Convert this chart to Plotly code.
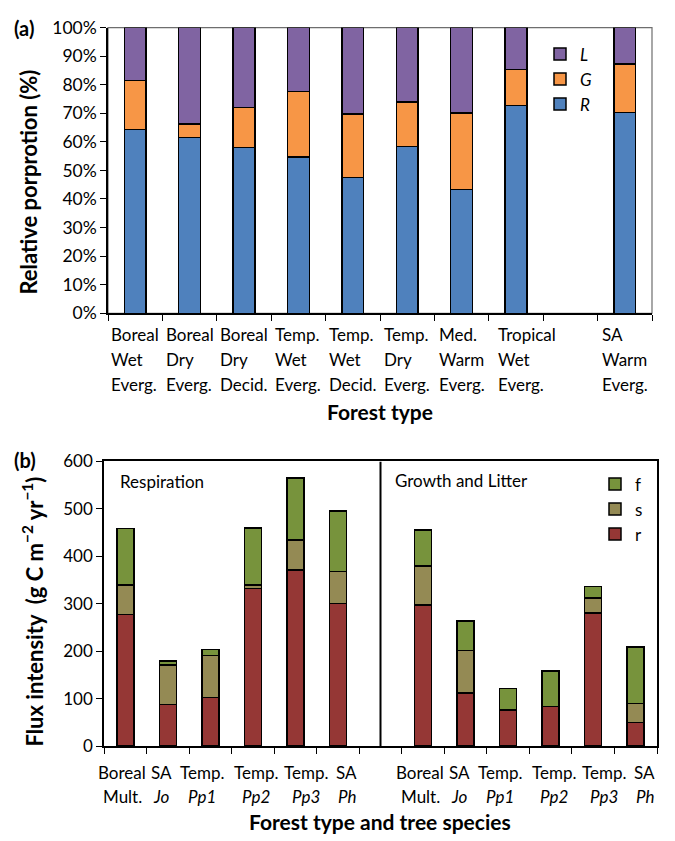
import plotly.graph_objects as go

# ---------------- Panel (a): relative partitioning by forest type ----------------
forest_types = [
    "Boreal<br>Wet<br>Everg.", "Boreal<br>Dry<br>Everg.", "Boreal<br>Dry<br>Decid.",
    "Temp.<br>Wet<br>Everg.", "Temp.<br>Wet<br>Decid.", "Temp.<br>Dry<br>Everg.",
    "Med.<br>Warm<br>Everg.", "Tropical<br>Wet<br>Everg.", "", "SA<br>Warm<br>Everg.",
]
share_R = [64.3, 61.6, 58.1, 54.7, 47.5, 58.4, 43.4, 72.8, None, 70.2]
share_G = [17.2, 4.6, 14.0, 23.0, 22.2, 15.5, 26.7, 12.6, None, 17.1]
share_L = [18.5, 33.8, 27.9, 22.3, 30.3, 26.1, 29.9, 14.6, None, 12.7]
pct_ticks = list(range(0, 101, 10))
pct_labels = [f"{v}%" for v in pct_ticks]

# ---------------- Panel (b): flux intensity by forest type / species ----------------
species = ["Boreal<br>Mult.", "SA<br><i>Jo</i>", "Temp.<br><i>Pp1</i>",
           "Temp.<br><i>Pp2</i>", "Temp.<br><i>Pp3</i>", "SA<br><i>Ph</i>"]
resp_r = [278, 88, 103, 332, 371, 301]
resp_s = [62, 83, 88, 8, 63, 67]
resp_f = [119, 9, 13, 120, 131, 128]
grow_r = [298, 112, 76, 84, 281, 50]
grow_s = [82, 90, 0, 0, 31, 40]
grow_f = [76, 62, 46, 74, 24, 119]
flux_ticks = list(range(0, 601, 100))

FONT = "Lato"
FS = 17
W, H = 675, 841

C_R, C_G, C_L = "#4F81BD", "#F79646", "#8064A2"
C_r, C_s, C_f = "#953735", "#948A54", "#77933C"

# horizontal nudges (px) that keep crowded category labels from touching
nudge_a = {7: 11}
nudge_b = [-3, -6, -8, 3, 11, 9]

fig = go.Figure()

xa = list(range(len(forest_types)))
for name, vals, col in [("<i>R</i>", share_R, C_R), ("<i>G</i>", share_G, C_G), ("<i>L</i>", share_L, C_L)]:
    fig.add_trace(go.Bar(x=xa, y=vals, name=name, marker=dict(color=col, line=dict(color="black", width=1.5)),
                         width=0.4, xaxis="x", yaxis="y", legend="legend"))

n = len(species)
xb_resp = list(range(n))
xb_grow = [i + n + 1 for i in range(n)]
xb = xb_resp + xb_grow
for name, a, b, col in [("r", resp_r, grow_r, C_r), ("s", resp_s, grow_s, C_s), ("f", resp_f, grow_f, C_f)]:
    fig.add_trace(go.Bar(x=xb, y=a + b, name=name, marker=dict(color=col, line=dict(color="black", width=1.5)),
                         width=0.4, xaxis="x2", yaxis="y2", legend="legend2"))

tickfont = dict(family=FONT, size=FS, color="black")

# plot areas (pixels -> paper fractions)
ax_a = dict(l=108, r=652, t=17, b=310)
ax_b = dict(l=104, r=657, t=462, b=754)

def xdom(p):
    return [p["l"] / W, p["r"] / W]

def ydom(p):
    return [1 - p["b"] / H, 1 - p["t"] / H]

nb_a = len(forest_types)
nb_b = 2 * n + 1

fig.update_layout(
    width=W, height=H, margin=dict(l=0, r=0, t=0, b=0),
    plot_bgcolor="white", paper_bgcolor="white",
    barmode="stack", font=dict(family=FONT, size=FS, color="black"),
    xaxis=dict(domain=xdom(ax_a), range=[-0.5, nb_a - 0.5], showticklabels=False, ticks="",
               showline=True, linecolor="black", linewidth=1.5, showgrid=False, zeroline=False,
               minor=dict(tickmode="array", tickvals=[i - 0.5 for i in range(nb_a + 1)],
                          ticks="outside", ticklen=6, tickcolor="black", tickwidth=1.2)),
    yaxis=dict(domain=ydom(ax_a), range=[0, 100], tickmode="array", tickvals=pct_ticks,
               ticktext=pct_labels,
               ticks="outside", ticklen=6, tickcolor="black", tickwidth=1.2,
               tickfont=dict(family=FONT, size=FS + 0.5, color="black"),
               showline=True, linecolor="black", linewidth=1.5, showgrid=False, zeroline=False),
    xaxis2=dict(domain=xdom(ax_b), range=[-0.5, nb_b - 0.5], showticklabels=False, ticks="",
                anchor="y2", showline=True, linecolor="black", linewidth=1.5, mirror=True,
                showgrid=False, zeroline=False,
                minor=dict(tickmode="array", tickvals=[i - 0.5 for i in range(nb_b + 1)],
                           ticks="outside", ticklen=6, tickcolor="black", tickwidth=1.2)),
    yaxis2=dict(domain=ydom(ax_b), range=[0, 600], tickvals=flux_ticks, anchor="x2",
                ticks="outside", ticklen=6, tickcolor="black", tickwidth=1.2, tickfont=tickfont,
                showline=True, linecolor="black", linewidth=1.5, mirror=True,
                showgrid=False, zeroline=False),
    legend=dict(x=540 / W, y=1 - 26 / H, xanchor="left", yanchor="top", traceorder="reversed",
                bgcolor="rgba(0,0,0,0)", font=dict(family=FONT, size=FS), itemwidth=30,
                tracegroupgap=0),
    legend2=dict(x=595 / W, y=1 - 467 / H, xanchor="left", yanchor="top", traceorder="reversed",
                 bgcolor="rgba(0,0,0,0)", font=dict(family=FONT, size=FS), itemwidth=30,
                 tracegroupgap=0),
)

# grey frame on top/right of panel (a)
fig.add_shape(type="rect", xref="x domain", yref="y domain", x0=0, x1=1, y0=0, y1=1,
              line=dict(color="#6e6e6e", width=1.2), layer="below")

# separator between respiration and growth groups in panel (b)
fig.add_shape(type="line", xref="x2", yref="y2", x0=n, x1=n, y0=0, y1=600,
              line=dict(color="black", width=2))

ann = []
# panel (a) category labels: left-aligned three-line blocks, centred on the slot
LINE_A = 25
for i, lab in enumerate(forest_types):
    if not lab:
        continue
    lines = [f'<span style="font-size:{FS}px">{ln}</span>' for ln in lab.split("<br>")]
    ann.append(dict(x=i, y=0, xref="x", yref="y", text="<br>".join(lines), showarrow=False,
                    yshift=-46, xshift=nudge_a.get(i, 0), xanchor="center", yanchor="middle",
                    align="left", font=dict(family=FONT, size=LINE_A / 1.3, color="black")))
# panel (b) category labels
for i, lab in enumerate(species + [""] + species):
    for j, line in enumerate(lab.split("<br>")):
        if line:
            ann.append(dict(x=i, y=0, xref="x2", yref="y2", text=line, showarrow=False,
                            yshift=-(26 + 24 * j), xshift=nudge_b[i % (n + 1)],
                            xanchor="center", yanchor="middle", font=tickfont))

bold_t = dict(family=FONT, size=21, color="black")
bold_y = dict(family=FONT, size=22, color="black")
bold_p = dict(family=FONT, size=20, color="black")
ann += [
    dict(x=12 / W, y=1 - 17 / H, xref="paper", yref="paper", text="<b>(a)</b>", showarrow=False,
         xanchor="left", yanchor="middle", font=bold_p),
    dict(x=12 / W, y=1 - 461 / H, xref="paper", yref="paper", text="<b>(b)</b>", showarrow=False,
         xanchor="left", yanchor="middle", font=bold_p),
    dict(x=29 / W, y=1 - 176 / H, xref="paper", yref="paper", text="<b>Relative porprotion (%)</b>",
         showarrow=False, textangle=-90, xanchor="center", yanchor="middle", font=bold_y),
    dict(x=33 / W, y=1 - 616 / H, xref="paper", yref="paper",
         text="<b>Flux intensity \u00a0(g C m<sup>\u22122</sup> yr<sup>\u22121</sup>)</b>",
         showarrow=False, textangle=-90, xanchor="center", yanchor="middle", font=bold_y),
    dict(x=380 / W, y=1 - 411 / H, xref="paper", yref="paper", text="<b>Forest type</b>",
         showarrow=False, xanchor="center", yanchor="middle", font=bold_t),
    dict(x=380 / W, y=1 - 831 / H, xref="paper", yref="paper", text="<b>Forest type and tree species</b>",
         showarrow=False, xanchor="center", yanchor="middle", font=bold_t),
    dict(x=118 / W, y=1 - 483 / H, xref="paper", yref="paper", text="Respiration",
         showarrow=False, xanchor="left", yanchor="middle", font=tickfont),
    dict(x=393 / W, y=1 - 482 / H, xref="paper", yref="paper", text="Growth and Litter",
         showarrow=False, xanchor="left", yanchor="middle", font=tickfont),
]
fig.update_layout(annotations=ann)

fig.write_html("out.html")
